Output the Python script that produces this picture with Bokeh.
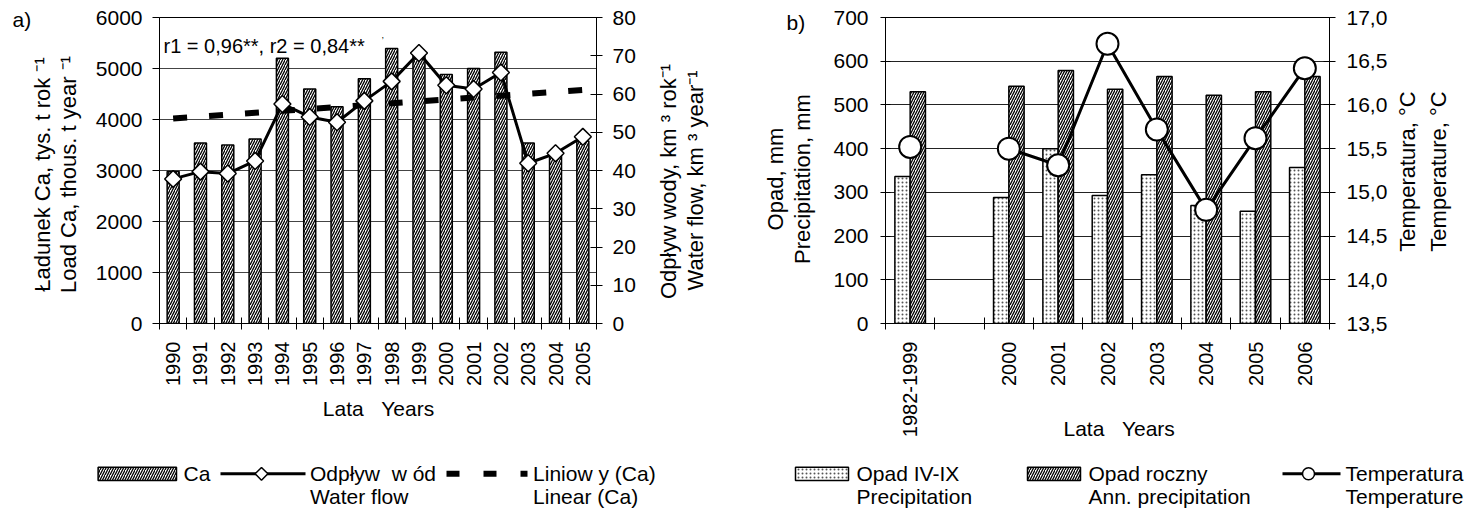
import numpy as np
from bokeh.plotting import figure
from bokeh.models import Range1d, LinearAxis, FixedTicker, Label
from bokeh.layouts import row, column
from bokeh.embed import file_html
from bokeh.resources import INLINE

FONT = "Liberation Sans"

# ---------------- data: chart a ----------------
years_a = ["1990", "1991", "1992", "1993", "1994", "1995", "1996", "1997",
           "1998", "1999", "2000", "2001", "2002", "2003", "2004", "2005"]
ca_load = [2980, 3540, 3500, 3620, 5200, 4600, 4250, 4800,
           5390, 5300, 4880, 5000, 5320, 3540, 3300, 3580]
water_flow = [37.8, 39.7, 39.2, 42.5, 57.4, 54.0, 52.6, 58.2,
              63.3, 70.7, 62.3, 61.3, 65.6, 41.9, 44.5, 48.8]
ticks_a_left = [0, 1000, 2000, 3000, 4000, 5000, 6000]
ticks_a_right = [0, 10, 20, 30, 40, 50, 60, 70, 80]

# ---------------- data: chart b ----------------
slots_b = ["1982-1999", "", "2000", "2001", "2002", "2003", "2004", "2005", "2006"]
periods_b = ["1982-1999", "2000", "2001", "2002", "2003", "2004", "2005", "2006"]
precip_iv_ix = [336, 288, 400, 293, 340, 270, 257, 357]
precip_annual = [530, 543, 579, 536, 565, 522, 530, 565]
temperature = [15.52, 15.50, 15.31, 16.70, 15.72, 14.80, 15.62, 16.42]
ticks_b_left = [0, 100, 200, 300, 400, 500, 600, 700]
ticks_b_right = [13.5, 14.0, 14.5, 15.0, 15.5, 16.0, 16.5, 17.0]

NB = "\u00a0"


def style_axis(ax, size="21px"):
    ax.axis_line_color = "black"
    ax.major_tick_line_color = "black"
    ax.minor_tick_line_color = None
    ax.major_label_text_font = FONT
    ax.major_label_text_font_size = size
    ax.major_label_text_color = "black"


def lab(p, x, y, text, size="21px", angle=0.0, align="left", baseline="middle",
        place="center"):
    lbl = Label(x=x, y=y, text=text, angle=angle, text_align=align,
                text_baseline=baseline, text_font=FONT, text_font_size=size,
                text_color="black")
    if place == "center":
        p.add_layout(lbl)
    else:
        p.add_layout(lbl, place)


# =============== chart a ===============
n_a = len(years_a)
xa = np.arange(n_a) + 0.5
pa = figure(width=760, height=455, x_range=Range1d(0, n_a), y_range=Range1d(0, 6000),
            output_backend="svg", toolbar_location=None,
            min_border_left=159, min_border_right=164, min_border_top=17, min_border_bottom=132)
pa.outline_line_color = "black"
pa.xgrid.visible = False
tka = FixedTicker(ticks=ticks_a_left)
pa.yaxis.ticker = tka
pa.ygrid.ticker = tka
pa.ygrid.grid_line_color = "#444444"
pa.ygrid.grid_line_width = 1
style_axis(pa.yaxis[0])
pa.yaxis.major_tick_in = 0
pa.yaxis.major_tick_out = 7
pa.yaxis.major_label_standoff = 10

style_axis(pa.xaxis[0], "20px")
pa.xaxis.ticker = FixedTicker(ticks=[float(v) for v in xa], minor_ticks=list(range(n_a + 1)))
pa.xaxis.major_label_overrides = {float(c): y for c, y in zip(xa, years_a)}
pa.xaxis.major_label_orientation = np.pi / 2
pa.xaxis.major_tick_line_color = None
pa.xaxis.major_tick_out = 6
pa.xaxis.major_tick_in = 0
pa.xaxis.minor_tick_line_color = "black"
pa.xaxis.minor_tick_in = 6
pa.xaxis.minor_tick_out = 6
pa.xaxis.major_label_standoff = 12

pa.extra_y_ranges = {"flow": Range1d(0, 80)}
ax_r = LinearAxis(y_range_name="flow", ticker=FixedTicker(ticks=ticks_a_right))
style_axis(ax_r)
ax_r.major_tick_in = 6
ax_r.major_tick_out = 6
ax_r.major_label_standoff = 10
pa.add_layout(ax_r, "right")

pa.vbar(x=xa, top=ca_load, width=0.44, fill_color="white", line_color="black",
        line_width=1.5, hatch_pattern="/", hatch_color="black", hatch_scale=5, hatch_weight=1.3)
coef = np.polyfit(np.arange(n_a), ca_load, 1)
trend = np.polyval(coef, np.arange(n_a))
pa.line(xa, water_flow, y_range_name="flow", line_color="black", line_width=3)
pa.line(xa, trend, line_color="black", line_width=6, line_dash="14 22")
pa.scatter(xa, water_flow, y_range_name="flow", marker="square", angle=np.pi / 4, size=12,
           fill_color="white", line_color="black", line_width=1.5)


def ax_(px):
    return (px - 159) / 437 * n_a


def ay_(py):
    return (323 - py) / 306 * 6000


lab(pa, ax_(163), ay_(45.5), "r1 = 0,96**, r2 = 0,84**", size="20px", baseline="alphabetic")
lab(pa, ax_(381), ay_(34), ",", size="9px", baseline="alphabetic")
lab(pa, ax_(12), ay_(19), "a)", place="left")
lab(pa, ax_(378), ay_(408), "Lata" + NB * 3 + "Years", align="center", place="below")
lab(pa, ax_(41.7), ay_(174), "Ładunek Ca, tys. t rok \u207b\u00b9", size="22px",
    angle=np.pi / 2, align="center", place="left")
lab(pa, ax_(68.3), ay_(174), "Load Ca, thous. t year \u207b\u00b9", size="22px",
    angle=np.pi / 2, align="center", place="left")
lab(pa, ax_(668), ay_(181), "Odpływ wody, km \u00b3 rok\u207b\u00b9", size="22px",
    angle=np.pi / 2, align="center", place="right")
lab(pa, ax_(695), ay_(180), "Water flow, km \u00b3 year\u207b\u00b9", size="22px",
    angle=np.pi / 2, align="center", place="right")

# =============== chart b ===============
n_b = len(slots_b)
xb = np.array([slots_b.index(p) for p in periods_b]) + 0.5
pb = figure(width=709, height=455, x_range=Range1d(0, n_b), y_range=Range1d(0, 700),
            output_backend="svg", toolbar_location=None,
            min_border_left=125, min_border_right=140, min_border_top=13, min_border_bottom=120)
pb.outline_line_color = "black"
pb.xgrid.visible = False
tkb = FixedTicker(ticks=ticks_b_left)
pb.yaxis.ticker = tkb
pb.ygrid.ticker = tkb
pb.ygrid.grid_line_color = "#222222"
pb.ygrid.grid_line_width = 1
style_axis(pb.yaxis[0])
pb.yaxis.major_tick_in = 5
pb.yaxis.major_tick_out = 5
pb.yaxis.major_label_standoff = 12

style_axis(pb.xaxis[0], "20px")
pb.xaxis.ticker = FixedTicker(ticks=[float(v) for v in xb], minor_ticks=list(range(n_b + 1)))
pb.xaxis.major_label_overrides = {float(c): s for c, s in zip(xb, periods_b)}
pb.xaxis.major_label_orientation = np.pi / 2
pb.xaxis.major_tick_line_color = None
pb.xaxis.major_tick_out = 6
pb.xaxis.major_tick_in = 0
pb.xaxis.minor_tick_line_color = "black"
pb.xaxis.minor_tick_in = 6
pb.xaxis.minor_tick_out = 6
pb.xaxis.major_label_standoff = 12
pb.xaxis.axis_label = NB * 4 + "Lata" + NB * 3 + "Years"
pb.xaxis.axis_label_text_font = FONT
pb.xaxis.axis_label_text_font_size = "21px"
pb.xaxis.axis_label_text_font_style = "normal"
pb.xaxis.axis_label_text_color = "black"
pb.xaxis.axis_label_standoff = -23

pb.extra_y_ranges = {"temp": Range1d(ticks_b_right[0], ticks_b_right[-1])}
bx_r = LinearAxis(y_range_name="temp", ticker=FixedTicker(ticks=ticks_b_right))
bx_r.major_label_overrides = {float(t): f"{t:.1f}".replace(".", ",") for t in ticks_b_right}
style_axis(bx_r)
bx_r.major_tick_in = 6
bx_r.major_tick_out = 6
bx_r.major_label_standoff = 11
pb.add_layout(bx_r, "right")

pb.vbar(x=xb - 0.155, top=precip_iv_ix, width=0.31, fill_color="white", line_color="black",
        line_width=1.5, hatch_pattern=".", hatch_color="#555555", hatch_scale=4, hatch_weight=1)
pb.vbar(x=xb + 0.155, top=precip_annual, width=0.31, fill_color="white", line_color="black",
        line_width=1.5, hatch_pattern="/", hatch_color="black", hatch_scale=5, hatch_weight=1.3)
pb.line(xb[1:], temperature[1:], y_range_name="temp", line_color="black", line_width=3)
pb.scatter(xb, temperature, y_range_name="temp", marker="circle", size=22,
           fill_color="white", line_color="black", line_width=2)


def bx_(px):
    return (px - 885) / 444 * n_b


def by_(py):
    return (335 - py) / 322 * 700


lab(pb, bx_(786), by_(18), "b)", place="right")
lab(pb, bx_(775), by_(183), "Opad, mm", size="22px", angle=np.pi / 2, align="center", place="left")
lab(pb, bx_(801.7), by_(183), "Precipitation, mm", size="22px", angle=np.pi / 2,
    align="center", place="left")
lab(pb, bx_(1406.7), by_(175), "Temperatura, \u00b0C", size="22px", angle=np.pi / 2,
    align="center", place="right")
lab(pb, bx_(1438.3), by_(175), "Temperature, \u00b0C", size="22px", angle=np.pi / 2,
    align="center", place="right")

# =============== legend strip ===============
LW, LH = 1469, 59
pl = figure(width=LW, height=LH, x_range=Range1d(0, LW), y_range=Range1d(LH, 0),
            output_backend="svg", toolbar_location=None, min_border=0,
            x_axis_type=None, y_axis_type=None)
pl.grid.visible = False
pl.outline_line_color = None


def lx(px):
    return px


def ly(py):
    return py - 455


R1, R2 = 473.3, 495.5
# a) legend
pl.quad(left=lx(97.6), right=lx(176), top=ly(466.7), bottom=ly(480), fill_color="white",
        line_color="black", line_width=1.5, hatch_pattern="/", hatch_color="black",
        hatch_scale=5, hatch_weight=1.3)
lab(pl, lx(183), ly(R1), "Ca")
pl.line([lx(220), lx(305)], [ly(R1), ly(R1)], line_color="black", line_width=3)
pl.scatter([lx(261)], [ly(R1)], marker="square", angle=np.pi / 4, size=9,
           fill_color="white", line_color="black", line_width=1.5)
lab(pl, lx(309.5), ly(R1), "Odpływ" + NB + " w ód")
lab(pl, lx(309.5), ly(R2), "Water flow")
pl.line([lx(446), lx(527)], [ly(R1), ly(R1)], line_color="black", line_width=6, line_dash="13 24")
lab(pl, lx(532.6), ly(R1), "Liniow y (Ca)")
lab(pl, lx(532.6), ly(R2), "Linear (Ca)")
# b) legend
pl.quad(left=lx(795), right=lx(848), top=ly(466.7), bottom=ly(480), fill_color="white",
        line_color="black", line_width=1.5, hatch_pattern=".", hatch_color="#555555",
        hatch_scale=4, hatch_weight=1)
lab(pl, lx(856), ly(R1), "Opad IV-IX")
lab(pl, lx(856), ly(R2), "Precipitation")
pl.quad(left=lx(1027), right=lx(1080), top=ly(466.7), bottom=ly(480), fill_color="white",
        line_color="black", line_width=1.5, hatch_pattern="/", hatch_color="black",
        hatch_scale=5, hatch_weight=1.3)
lab(pl, lx(1088), ly(R1), "Opad roczny")
lab(pl, lx(1088), ly(R2), "Ann. precipitation")
pl.line([lx(1282), lx(1340)], [ly(R1), ly(R1)], line_color="black", line_width=3)
pl.scatter([lx(1308)], [ly(R1)], marker="circle", size=12, fill_color="white",
           line_color="black", line_width=1.5)
lab(pl, lx(1345), ly(R1), "Temperatura")
lab(pl, lx(1345), ly(R2), "Temperature")

layout = column(row(pa, pb), pl)
open("out.html", "w").write(file_html(layout, INLINE))
